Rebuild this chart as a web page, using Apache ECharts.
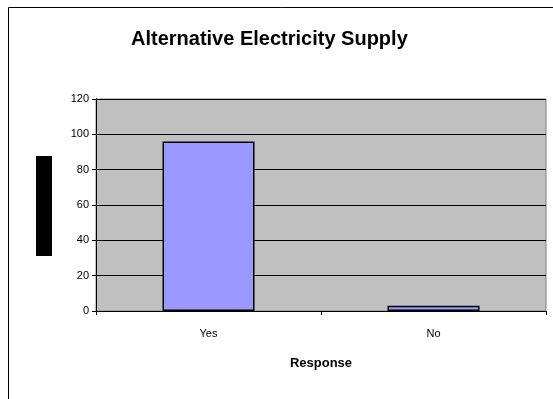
<!DOCTYPE html>
<html>
<head>
<meta charset="utf-8">
<script src="https://cdn.jsdelivr.net/npm/echarts@6/dist/echarts.min.js"></script>
<style>
  html, body { margin: 0; padding: 0; background: #fff; }
  #chart { width: 553px; height: 399px; }
</style>
</head>
<body>
<div id="chart"></div>
<script>
const categories = ['Yes', 'No']
const responses = [96, 3]
const yTicks = { min: 0, max: 120, interval: 20 }

const chartInstance = echarts.init(document.getElementById('chart'))
const font = '"Liberation Sans", Arial, sans-serif'

const option = {
    animation: false,
    title: {
        text: 'Alternative Electricity Supply',
        left: 126,
        top: 24,
        textStyle: { fontFamily: font, fontSize: 20, fontWeight: 'bold', color: '#000' }
    },
    grid: {
        left: 96,
        top: 99,
        width: 450,
        height: 212,
        show: true,
        backgroundColor: '#C0C0C0',
        borderColor: '#808080',
        borderWidth: 1
    },
    graphic: [
        {
            type: 'rect',
            shape: { x: 8.5, y: 7.5, width: 600, height: 450 },
            style: { fill: 'none', stroke: '#000', lineWidth: 1 },
            z: 100
        },
        {
            type: 'rect',
            shape: { x: 36, y: 156, width: 16, height: 100 },
            style: { fill: '#000' }
        }
    ],
    xAxis: {
        type: 'category',
        data: categories,
        name: 'Response',
        nameLocation: 'middle',
        nameGap: 46,
        nameTextStyle: { fontFamily: font, fontSize: 13, fontWeight: 'bold', color: '#000' },
        axisLine: { lineStyle: { color: '#000', width: 1 } },
        axisTick: { show: true, alignWithLabel: false, length: 4, lineStyle: { color: '#000' } },
        axisLabel: { fontFamily: font, fontSize: 11, color: '#000', margin: 17 }
    },
    yAxis: {
        type: 'value',
        min: yTicks.min,
        max: yTicks.max,
        interval: yTicks.interval,
        axisLine: { show: true, lineStyle: { color: '#000', width: 1 } },
        axisTick: { show: true, length: 4, lineStyle: { color: '#000' } },
        axisLabel: { fontFamily: font, fontSize: 11, color: '#000', margin: 7 },
        splitLine: { show: true, lineStyle: { color: '#000', width: 1 } }
    },
    series: [
        {
            type: 'bar',
            data: responses,
            barWidth: 92,
            itemStyle: { color: '#9999FF', borderColor: '#000', borderWidth: 1.5 }
        }
    ]
}

option && chartInstance.setOption(option)
</script>
</body>
</html>
